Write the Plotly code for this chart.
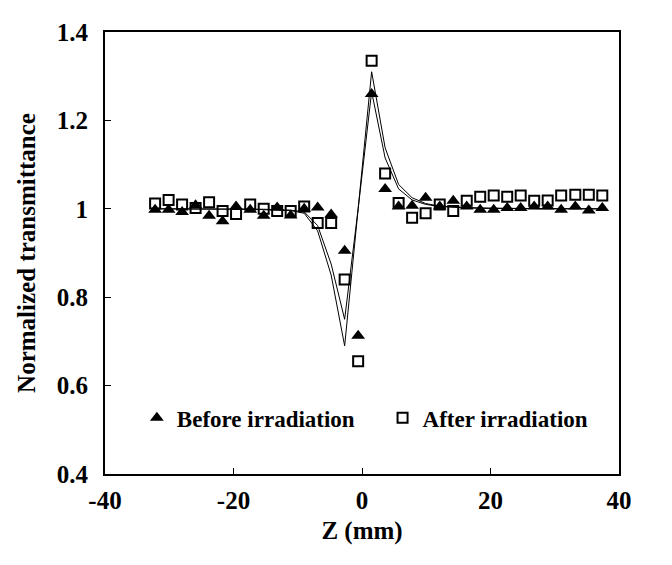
import plotly.graph_objects as go

# Z positions (mm) of the scan points
z_mm = [-32.2, -30.1, -28.0, -25.9, -23.8, -21.7, -19.6, -17.4, -15.3, -13.2,
        -11.1, -9.0, -6.9, -4.8, -2.7, -0.6, 1.5, 3.6, 5.7, 7.8,
        9.9, 12.1, 14.2, 16.3, 18.4, 20.5, 22.6, 24.7, 26.8, 28.9,
        31.0, 33.2, 35.3, 37.4]

# Measured normalized transmittance
before_irr = [0.998, 0.998, 0.993, 1.008, 0.984, 0.972, 1.005, 0.998, 0.984, 1.003,
              0.985, 1.000, 1.003, 0.987, 0.905, 0.713, 1.260, 1.045, 1.005, 1.007,
              1.025, 1.005, 1.018, 1.005, 0.998, 0.998, 1.002, 1.002, 1.005, 1.005,
              0.998, 1.005, 0.996, 1.002]
after_irr = [1.012, 1.020, 1.010, 1.002, 1.015, 0.995, 0.988, 1.010, 1.000, 0.995,
             0.995, 1.005, 0.968, 0.968, 0.840, 0.655, 1.335, 1.080, 1.013, 0.980,
             0.990, 1.010, 0.995, 1.018, 1.027, 1.030, 1.027, 1.030, 1.018, 1.019,
             1.030, 1.032, 1.032, 1.030]

# Theoretical fits
fit_after = [1.000, 1.000, 1.000, 1.000, 1.000, 1.000, 0.999, 0.999, 0.998, 0.997,
             0.996, 0.990, 0.950, 0.850, 0.690, 1.000, 1.310, 1.138, 1.055, 1.025,
             1.012, 1.006, 1.004, 1.003, 1.002, 1.001, 1.001, 1.001, 1.000, 1.000,
             1.000, 1.000, 1.000, 1.000]
fit_before = [1.000, 1.000, 1.000, 1.000, 1.000, 1.000, 0.999, 0.999, 0.999, 0.998,
              0.997, 0.993, 0.962, 0.875, 0.750, 1.000, 1.265, 1.115, 1.045, 1.020,
              1.010, 1.005, 1.003, 1.002, 1.001, 1.001, 1.001, 1.000, 1.000, 1.000,
              1.000, 1.000, 1.000, 1.000]

x_ticks = [-40, -20, 0, 20, 40]
x_tick_text = ["-40", "-20", "0", "20", "40"]

font_family = "Liberation Serif"
bold = dict(family=font_family, size=25, color="black", weight="bold")
legend_font = dict(family=font_family, size=23, color="black", weight="bold")

fig = go.Figure()

# fitted curves (thin black lines, not in legend)
fig.add_trace(go.Scatter(x=z_mm, y=fit_after, mode="lines",
                         line=dict(color="black", width=1), showlegend=False))
fig.add_trace(go.Scatter(x=z_mm, y=fit_before, mode="lines",
                         line=dict(color="black", width=1), showlegend=False))

# measured points, each in its own legend box so they sit on one line
fig.add_trace(go.Scatter(x=z_mm, y=before_irr, mode="markers", name="Before irradiation",
                         marker=dict(symbol="triangle-up", size=12, color="black"),
                         legend="legend"))
fig.add_trace(go.Scatter(x=z_mm, y=after_irr, mode="markers", name="After irradiation",
                         marker=dict(symbol="square-open", size=10, color="black",
                                     line=dict(width=2, color="black")),
                         legend="legend2"))

fig.update_layout(
    width=672, height=565,
    margin=dict(l=97, r=61, t=24, b=99),
    paper_bgcolor="white", plot_bgcolor="white",
    font=dict(family=font_family, size=25, color="black"),
    legend=dict(x=0.062, y=0.127, yanchor="middle", xanchor="left",
                bgcolor="rgba(0,0,0,0)", font=legend_font),
    legend2=dict(x=0.54, y=0.127, yanchor="middle", xanchor="left",
                 bgcolor="rgba(0,0,0,0)", font=legend_font),
    xaxis=dict(range=[-40, 40], tickvals=x_ticks, ticktext=x_tick_text,
               showline=True, linewidth=2, linecolor="black", mirror=True,
               ticks="inside", ticklen=6, tickwidth=1, tickcolor="black",
               showgrid=False, zeroline=False, ticklabelstandoff=3,
               tickfont=bold,
               title=dict(text="Z (mm)", standoff=8, font=bold)),
    yaxis=dict(range=[0.4, 1.4], dtick=0.2, tick0=0.4,
               showline=True, linewidth=2, linecolor="black", mirror=True,
               ticks="inside", ticklen=6, tickwidth=1, tickcolor="black",
               showgrid=False, zeroline=False, ticklabelstandoff=10,
               tickfont=bold,
               title=dict(text="Normalized transmittance", standoff=14, font=bold)),
)

fig.write_html("out.html")
